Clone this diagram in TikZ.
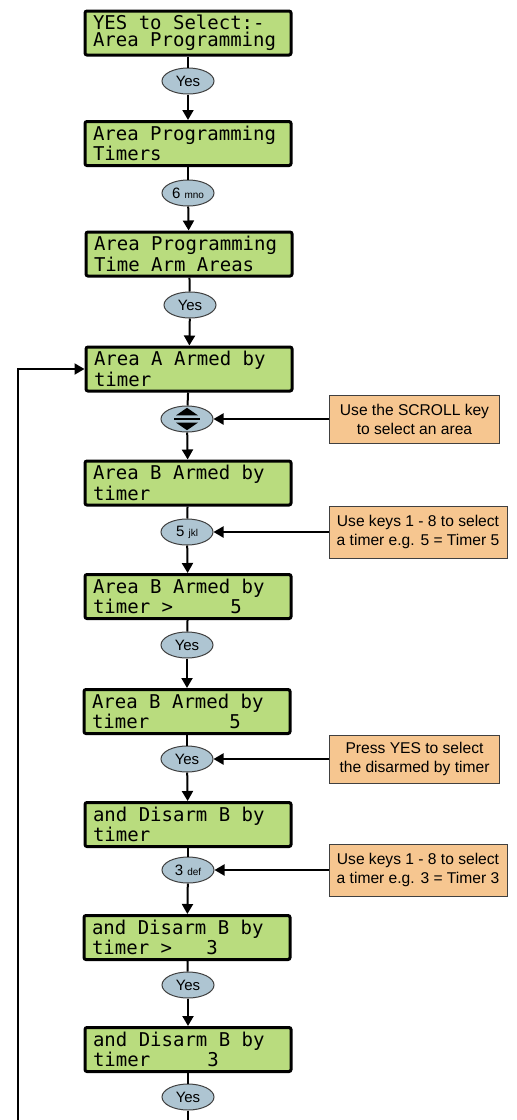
\documentclass[tikz,border=0pt]{standalone}
\usepackage{fontspec}
\setmainfont{Liberation Sans}
\newfontfamily\lcdfont{DejaVu Sans Mono}
\usepackage{tikz}
\usepackage{xcolor}
\usetikzlibrary{shapes.geometric, arrows.meta, positioning}
\definecolor{LCD_Green}{HTML}{B9DC7E}
\definecolor{Key_Blue}{HTML}{AEC5D2}
\definecolor{Note_Orange}{HTML}{F6C690}
\newcommand{\keysub}[1]{{\fontsize{5}{6}\selectfont #1}}
% fixed-pitch spaces on the display
\newcommand{\lcdspacing}{\spaceskip=\fontcharwd\font`0\relax\xspaceskip=\spaceskip}

\begin{document}
\begin{tikzpicture}[
    x=0.5pt, y=-0.5pt,
    >={Triangle[length=5pt, width=5.5pt]},
    lcd/.style={
        draw=black,
        fill=LCD_Green,
        line width=1.5pt,
        rounded corners=1pt,
        text width=95pt,
        inner xsep=4pt,
        inner ysep=0pt,
        minimum height=22pt,
        align=left,
        font=\lcdfont\fontsize{9.5}{8.5}\selectfont,
        execute at begin node=\lcdspacing
    },
    key/.style={
        ellipse,
        draw=black!75,
        fill=Key_Blue,
        line width=0.5pt,
        minimum width=26pt,
        minimum height=13pt,
        inner sep=0pt,
        font=\fontsize{7.5}{9}\selectfont
    },
    note/.style={
        draw=black!75,
        fill=Note_Orange,
        line width=0.5pt,
        minimum width=85pt,
        minimum height=24pt,
        inner sep=0pt,
        align=center,
        font=\fontsize{7.8}{9.5}\selectfont
    },
    widenote/.style={note, minimum width=89pt, minimum height=26pt},
    flow/.style={draw=black, line width=1pt}
]

\useasboundingbox (0,0) rectangle (517,1120);

% display screens
\node[lcd] (B1) at (188,33) {YES to Select:-\\Area Programming};
\node[lcd] (B2) at (188,143.5) {Area Programming\\Timers};
\node[lcd] (B3) at (189,254) {Area Programming\\Time Arm Areas};
\node[lcd] (B4) at (189,369) {Area A Armed by\\timer};
\node[lcd] (B5) at (188,483) {Area B Armed by\\timer};
\node[lcd] (B6) at (188,596.5) {Area B Armed by\\timer >~~~~~5};
\node[lcd] (B7) at (187,711.5) {Area B Armed by\\timer~~~~~~~5};
\node[lcd] (B8) at (188,824.5) {and Disarm B by\\timer};
\node[lcd] (B9) at (187,937.5) {and Disarm B by\\timer >~~~3};
\node[lcd] (B10) at (188,1049.5) {and Disarm B by\\timer~~~~~3};

% keys
\node[key] (K1) at (188,81) {Yes};
\node[key] (K2) at (188,193) {6 \keysub{mno}};
\node[key] (K3) at (190,305) {Yes};
\node[key] (K4) at (187,419) {};
\node[key] (K5) at (187,532) {5 \keysub{jkl}};
\node[key] (K6) at (187,645) {Yes};
\node[key] (K7) at (187,759) {Yes};
\node[key] (K8) at (188,870) {3 \keysub{def}};
\node[key] (K9) at (188,985) {Yes};
\node[key] (K10) at (188,1097) {Yes};

% scroll symbol
\fill ([xshift=-5.5pt, yshift=1.8pt]K4.center) -- ([xshift=5.5pt, yshift=1.8pt]K4.center)
    -- ([yshift=5.6pt]K4.center) -- cycle;
\fill ([xshift=-5.5pt, yshift=-1.8pt]K4.center) -- ([xshift=5.5pt, yshift=-1.8pt]K4.center)
    -- ([yshift=-5.6pt]K4.center) -- cycle;
\draw[line width=0.6pt] ([xshift=-6.5pt]K4.center) -- ([xshift=6.5pt]K4.center);

% notes
\node[note] (N1) at (414.5,419) {Use the SCROLL key\\to select an area};
\node[widenote] (N2) at (418,532) {Use keys 1 - 8 to select\\a timer e.g. 5 = Timer 5};
\node[note] (N3) at (414.5,759) {Press YES to select\\the disarmed by timer};
\node[widenote] (N4) at (418,870) {Use keys 1 - 8 to select\\a timer e.g. 3 = Timer 3};

% main flow
\draw[flow] (B1) -- (K1);
\draw[flow, ->] (K1) -- (B2);
\draw[flow] (B2) -- (K2);
\draw[flow, ->] (K2) -- (B3);
\draw[flow] (B3) -- (K3);
\draw[flow, ->] (K3) -- (B4);
\draw[flow] (B4) -- (K4);
\draw[flow, ->] (K4) -- (B5);
\draw[flow] (B5) -- (K5);
\draw[flow, ->] (K5) -- (B6);
\draw[flow] (B6) -- (K6);
\draw[flow, ->] (K6) -- (B7);
\draw[flow] (B7) -- (K7);
\draw[flow, ->] (K7) -- (B8);
\draw[flow] (B8) -- (K8);
\draw[flow, ->] (K8) -- (B9);
\draw[flow] (B9) -- (K9);
\draw[flow, ->] (K9) -- (B10);
\draw[flow] (B10) -- (K10);

% notes to keys
\draw[flow, ->] (N1) -- (K4);
\draw[flow, ->] (N2) -- (K5);
\draw[flow, ->] (N3) -- (K7);
\draw[flow, ->] (N4) -- (K8);

% loop back
\coordinate (mainbot) at (188,1120);
\coordinate (loopbot) at (18,1120);
\draw[flow] (K10) -- (mainbot);
\draw[flow, ->] (loopbot) |- (B4);

\end{tikzpicture}
\end{document}
